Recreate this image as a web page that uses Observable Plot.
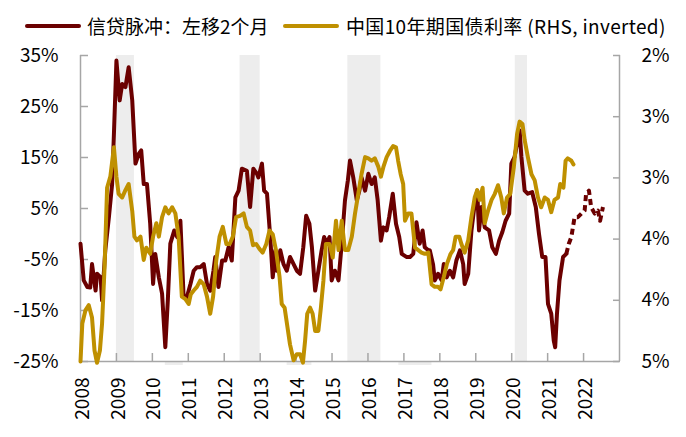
<!DOCTYPE html>
<html>
<head>
<meta charset="utf-8">
<script src="https://cdn.jsdelivr.net/npm/d3@7"></script>
<script src="https://cdn.jsdelivr.net/npm/@observablehq/plot@0.6"></script>
<style>
  html, body { margin: 0; padding: 0; background: #fff; }
  #wrap { width: 686px; }
  #legend { position: relative; width: 686px; height: 45px; font-family: "Noto Sans CJK SC", "Noto Sans", sans-serif; font-size: 19px; color: #000; }
  .sw { position: absolute; top: 24px; height: 4px; width: 56px; border-radius: 2px; }
  .lt { position: absolute; top: 12px; line-height: 28px; white-space: nowrap; }
</style>
</head>
<body>
<div id="wrap">
  <div id="legend">
    <div class="sw" style="left:25px;background:#6B0000"></div>
    <div class="lt" style="left:87px">信贷脉冲：左移2个月</div>
    <div class="sw" style="left:283px;background:#BF9000"></div>
    <div class="lt" style="left:346px;letter-spacing:0.35px">中国10年期国债利率 (RHS, inverted)</div>
  </div>
  <div id="chart"></div>
</div>
<script>
// ---- data ----
const seriesNames = ["信贷脉冲：左移2个月", "中国10年期国债利率 (RHS, inverted)"];
const seriesColors = ["#6B0000", "#BF9000"];

// credit impulse (left axis, %), time as decimal year
const creditT = [2008.00,2008.09,2008.19,2008.27,2008.32,2008.42,2008.46,2008.56,2008.60,2008.69,2008.79,2008.88,2008.93,
2009.00,2009.09,2009.16,2009.25,2009.34,2009.44,2009.53,2009.62,2009.69,2009.76,2009.85,2009.94,
2010.02,2010.08,2010.18,2010.27,2010.36,2010.43,2010.50,2010.61,2010.69,2010.78,2010.87,2010.96,
2011.06,2011.15,2011.24,2011.33,2011.43,2011.52,2011.61,2011.70,2011.75,2011.84,2011.94,
2012.03,2012.12,2012.21,2012.31,2012.40,2012.49,2012.63,2012.72,2012.81,2012.91,2012.95,
2013.05,2013.11,2013.19,2013.28,2013.35,2013.42,2013.46,2013.56,2013.65,2013.74,2013.83,2013.93,
2014.02,2014.11,2014.20,2014.28,2014.37,2014.44,2014.53,2014.62,2014.71,2014.78,2014.85,2014.93,2014.99,
2015.08,2015.18,2015.27,2015.36,2015.44,2015.50,2015.59,2015.69,2015.76,2015.82,2015.92,
2016.01,2016.10,2016.19,2016.27,2016.36,2016.43,2016.52,2016.59,2016.69,2016.78,2016.87,2016.94,
2017.07,2017.17,2017.26,2017.35,2017.44,2017.52,2017.58,2017.68,2017.72,2017.81,2017.86,2017.95,
2018.05,2018.11,2018.19,2018.28,2018.37,2018.46,2018.56,2018.65,2018.69,2018.79,2018.88,2018.97,
2019.04,2019.09,2019.16,2019.25,2019.37,2019.46,2019.56,2019.65,2019.74,2019.83,2019.93,2019.99,
2020.08,2020.22,2020.27,2020.36,2020.45,2020.57,2020.67,2020.76,2020.85,2020.94,
2021.01,2021.10,2021.17,2021.21,2021.26,2021.33,2021.43,2021.52];
const creditV = [-1.9,-9.1,-10.4,-10.5,-5.9,-11.1,-7.8,-8.5,-13.0,-3.2,3.3,9.8,19.6,
34.0,26.2,29.4,28.8,32.7,26.2,13.8,15.7,16.4,9.8,9.8,2.0,
-9.8,-3.9,-8.5,-11.7,-22.2,-13.0,-1.9,0.7,-0.6,2.6,-12.4,-12.4,
-9.8,-7.2,-6.5,-6.5,-5.9,-9.8,-11.1,-7.2,-4.5,-10.4,-5.2,
-5.2,-2.6,-5.2,7.2,8.5,12.8,12.4,5.3,12.8,11.8,11.1,
13.8,8.5,7.9,-0.6,-8.5,-3.2,-7.2,-3.2,-5.9,-7.2,-4.5,-5.9,
-7.2,-7.8,-2.6,3.6,2.0,-2.6,-11.1,-7.2,-3.2,-0.6,-1.9,-0.6,-9.1,
-7.2,-9.1,-1.9,6.6,10.5,14.4,11.1,6.6,8.5,11.1,8.5,
11.8,9.8,11.1,6.6,-1.3,1.3,0.7,3.3,7.9,2.0,-0.6,-3.9,
-4.5,-4.5,-3.9,2.3,-1.9,0.7,-2.6,-3.2,-3.2,-5.9,-9.1,-7.8,
-9.1,-5.9,-8.5,-7.2,-8.5,-5.2,-3.2,-5.9,-9.8,-7.8,0.7,5.9,
8.5,0.7,5.3,1.3,0.7,-2.6,-3.9,-1.3,0.4,2.6,4.0,13.8,
15.1,20.3,15.1,8.5,7.9,8.2,5.3,0.0,-4.5,-4.5,
-13.7,-15.6,-20.9,-22.2,-15.6,-9.1,-4.5,-3.9];
// latest (dashed) part of the credit impulse
const creditDashT = [2021.52,2021.59,2021.66,2021.75,2021.84,2021.94,2022.03,2022.07,2022.15,2022.21,2022.31,2022.40,2022.46,2022.54];
const creditDashV = [-3.9,-1.9,-0.6,3.3,3.3,4.0,4.6,7.9,8.5,5.3,4.0,4.6,2.6,5.3];

// China 10Y government bond yield (right axis, %, inverted)
const yieldT = [2008.00,2008.05,2008.14,2008.23,2008.32,2008.39,2008.46,2008.54,2008.60,2008.67,2008.74,2008.83,2008.93,
2009.00,2009.06,2009.16,2009.25,2009.34,2009.44,2009.50,2009.57,2009.67,2009.76,2009.83,2009.94,
2010.02,2010.11,2010.18,2010.27,2010.36,2010.45,2010.55,2010.64,2010.73,2010.82,2010.92,
2011.01,2011.07,2011.15,2011.24,2011.33,2011.43,2011.52,2011.61,2011.69,2011.78,2011.87,2011.96,
2012.06,2012.15,2012.24,2012.33,2012.44,2012.54,2012.63,2012.72,2012.80,2012.89,2012.98,
2013.07,2013.17,2013.26,2013.35,2013.44,2013.54,2013.60,2013.68,2013.76,2013.83,2013.93,
2014.02,2014.11,2014.19,2014.25,2014.31,2014.39,2014.46,2014.53,2014.62,2014.69,2014.76,2014.83,2014.93,
2015.02,2015.11,2015.18,2015.27,2015.36,2015.45,2015.55,2015.64,2015.73,2015.82,2015.92,
2016.01,2016.10,2016.19,2016.29,2016.36,2016.43,2016.52,2016.61,2016.70,2016.78,2016.84,2016.91,2016.98,
2017.03,2017.12,2017.21,2017.31,2017.40,2017.49,2017.58,2017.68,2017.77,2017.86,2017.95,
2018.02,2018.11,2018.20,2018.30,2018.37,2018.44,2018.54,2018.60,2018.69,2018.79,2018.88,2018.97,
2019.04,2019.11,2019.19,2019.25,2019.34,2019.44,2019.53,2019.62,2019.71,2019.78,2019.87,2019.96,
2020.06,2020.15,2020.22,2020.30,2020.36,2020.45,2020.55,2020.64,2020.73,2020.82,2020.92,
2021.01,2021.10,2021.19,2021.29,2021.35,2021.44,2021.50,2021.56,2021.66,2021.72];
const yieldV = [4.50,4.19,4.08,4.04,4.14,4.41,4.51,4.41,4.19,3.73,3.08,2.99,2.75,
2.99,3.13,3.16,3.10,3.05,3.27,3.48,3.51,3.48,3.67,3.57,3.62,
3.48,3.37,3.48,3.32,3.24,3.29,3.24,3.29,3.48,3.97,3.99,
4.03,3.95,3.92,3.89,3.84,3.87,3.97,4.11,3.97,3.67,3.48,3.40,
3.54,3.54,3.48,3.32,3.31,3.29,3.40,3.43,3.55,3.54,3.58,
3.61,3.54,3.43,3.46,3.59,3.81,4.03,4.06,4.22,4.36,4.49,
4.44,4.44,4.51,4.33,4.11,4.06,4.11,4.25,4.25,4.06,3.84,3.54,3.54,
3.65,3.35,3.59,3.35,3.59,3.59,3.48,3.29,3.13,2.97,2.83,
2.84,2.86,2.84,2.91,2.99,2.91,2.83,2.78,2.74,2.75,2.86,2.97,3.05,
3.35,3.29,3.29,3.57,3.59,3.61,3.62,3.61,3.87,3.89,3.89,
3.91,3.81,3.70,3.62,3.59,3.48,3.48,3.54,3.61,3.51,3.32,3.16,
3.10,3.18,3.08,3.37,3.27,3.18,3.13,3.06,3.16,3.29,3.16,3.13,
2.91,2.64,2.54,2.56,2.69,2.83,2.97,3.02,3.16,3.24,3.16,
3.18,3.28,3.18,3.16,3.05,3.08,2.86,2.84,2.86,2.89];

// shaded periods
const bandStart = [2009.0, 2012.44, 2015.44, 2020.1];
const bandEnd   = [2009.5, 2013.0, 2016.36, 2020.44];
const lowBandStart = [2010.36, 2013.75, 2016.86];
const lowBandEnd   = [2010.86, 2014.44, 2017.78];

// axes
const years = d3.range(2008, 2023);
const leftTicks = [-25, -15, -5, 5, 15, 25, 35];
const rightTicks = [2, 2.5, 3, 3.5, 4, 4.5];
const rightTickLabels = ["2%", "3%", "3%", "4%", "4%", "5%"];

const xDomain = [2008, 2023];
const yDomain = [-25, 35];
const rDomain = [2, 4.5];
// map right-axis (inverted) values into left-axis units
const toLeft = r => yDomain[1] - (r - rDomain[0]) / (rDomain[1] - rDomain[0]) * (yDomain[1] - yDomain[0]);

const credit = creditT.map((t, i) => ({t, v: creditV[i]}));
const creditDash = creditDashT.map((t, i) => ({t, v: creditDashV[i]}));
const yld = yieldT.map((t, i) => ({t, r: yieldV[i]}));
const bands = bandStart.map((s, i) => ({s, e: bandEnd[i]}));
const lowBands = lowBandStart.map((s, i) => ({s, e: lowBandEnd[i]}));
const rightLabelMap = new Map(rightTicks.map((r, i) => [toLeft(r), rightTickLabels[i]]));

const gray = "#A6A6A6";
const chart = Plot.plot({
  width: 686,
  height: 392,
  marginTop: 10,
  marginBottom: 76,
  marginLeft: 80,
  marginRight: 67,
  style: {fontFamily: "'Noto Sans CJK SC', 'Noto Sans', sans-serif", fontSize: "19px", color: "#000", background: "#fff", overflow: "visible"},
  x: {domain: xDomain, label: null},
  y: {domain: yDomain, label: null},
  marks: [
    Plot.rect(bands, {x1: "s", x2: "e", fill: "#EDEDED"}),
    Plot.rect(lowBands, {x1: "s", x2: "e", fill: "#EDEDED", insetTop: 303, dy: 4}),
    Plot.ruleX(xDomain, {stroke: gray, strokeWidth: 1.5}),
    Plot.ruleY([yDomain[0]], {stroke: gray, strokeWidth: 1.5}),
    Plot.axisY({ticks: leftTicks, tickSize: 8, dx: 8, text: null, label: null, stroke: gray, strokeWidth: 1.5}),
    Plot.axisY({ticks: leftTicks, tickSize: 0, tickPadding: 22, label: null, tickFormat: d => d + "%", fontSize: 19}),
    Plot.axisY({anchor: "right", ticks: rightTicks.map(toLeft), tickSize: 7, dx: -7, text: null, label: null, stroke: gray, strokeWidth: 1.5}),
    Plot.axisY({anchor: "right", ticks: rightTicks.map(toLeft), tickSize: 0, tickPadding: 22, label: null, tickFormat: d => rightLabelMap.get(d), fontSize: 19}),
    Plot.axisX({ticks: years, tickSize: 8, dy: -8, text: null, label: null, stroke: gray, strokeWidth: 1.5}),
    Plot.axisX({ticks: years, tickSize: 0, tickPadding: 16, tickRotate: -90, label: null, tickFormat: d => String(d), fontSize: 19, dx: 2}),
    Plot.line(credit, {x: "t", y: "v", stroke: seriesColors[0], strokeWidth: 4, strokeLinejoin: "round"}),
    Plot.line(creditDash, {x: "t", y: "v", stroke: seriesColors[0], strokeWidth: 4, strokeDasharray: "6,4", strokeLinecap: "butt"}),
    Plot.line(yld, {x: "t", y: d => toLeft(d.r), stroke: seriesColors[1], strokeWidth: 4, strokeLinejoin: "round"})
  ]
});
document.getElementById("chart").appendChild(chart);
</script>
</body>
</html>
